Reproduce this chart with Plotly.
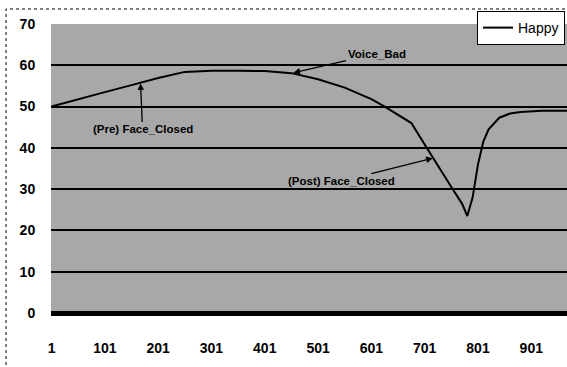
import plotly.graph_objects as go

# Data
x_vals = [1, 51, 101, 151, 201, 251, 301, 351, 401, 451, 501, 551, 601, 626, 651, 676,
          701, 726, 751, 771, 781, 791, 801, 811, 821, 841, 861, 881, 921, 968]
happy = [50.0, 51.8, 53.5, 55.2, 56.9, 58.4, 58.7, 58.7, 58.6, 58.1, 56.6, 54.6, 51.8, 50.0,
         48.0, 46.0, 40.8, 35.5, 30.5, 26.5, 23.5, 28.0, 36.0, 41.5, 44.5, 47.3, 48.3, 48.7,
         49.0, 49.0]
x_ticks = [1, 101, 201, 301, 401, 501, 601, 701, 801, 901]
y_ticks = [0, 10, 20, 30, 40, 50, 60, 70]

fig = go.Figure()
fig.add_trace(go.Scatter(x=x_vals, y=happy, mode="lines", name="Happy",
                         line=dict(color="black", width=2)))

ann_font = dict(family="Liberation Sans, Arial", size=11.5, color="black")
fig.add_annotation(x=455, y=58.2, text="<b>Voice_Bad</b>", ax=83, ay=-19,
                   showarrow=True, arrowhead=2, arrowsize=1, arrowwidth=1.3,
                   arrowcolor="black", font=ann_font)
fig.add_annotation(x=168, y=55.6, text="<b>(Pre) Face_Closed</b>", ax=2, ay=46,
                   showarrow=True, arrowhead=2, arrowsize=1, arrowwidth=1.3,
                   arrowcolor="black", font=ann_font)
fig.add_annotation(x=716, y=37.5, text="<b>(Post) Face_Closed</b>", ax=-91, ay=23,
                   showarrow=True, arrowhead=2, arrowsize=1, arrowwidth=1.3,
                   arrowcolor="black", font=ann_font)

# outer dotted chart border (right and bottom sides fall outside the picture)
L, T, W, H = 51, 24, 516, 289
fig.add_shape(type="rect", xref="paper", yref="paper",
              x0=(6 - L) / W, x1=(580 - L) / W, y0=(313 - 380) / H, y1=(313 - 9) / H,
              line=dict(color="black", width=1, dash="dot"), layer="below")

tick_font = dict(family="Liberation Sans, Arial", size=14, color="black", weight="bold")

fig.update_layout(
    width=567, height=367,
    margin=dict(l=L, r=0, t=T, b=367 - 313, autoexpand=False),
    paper_bgcolor="white", plot_bgcolor="#a8a8a8",
    font=dict(family="Liberation Sans, Arial", size=13, color="black"),
    showlegend=True,
    legend=dict(x=(477 - L) / W, y=(313 - 11) / H, xanchor="left", yanchor="top",
                bgcolor="white", bordercolor="black", borderwidth=1,
                font=dict(size=14), itemwidth=30, tracegroupgap=0,
                entrywidth=48),
    xaxis=dict(range=[0, 968], tickvals=x_ticks, ticktext=[str(t) for t in x_ticks],
               showgrid=False, zeroline=False, showline=False,
               ticks="outside", ticklen=22, tickcolor="rgba(0,0,0,0)",
               tickfont=tick_font),
    yaxis=dict(range=[0, 70], tickvals=y_ticks, showgrid=True, gridcolor="black",
               gridwidth=1.5, zeroline=True, zerolinecolor="black", zerolinewidth=5,
               showline=False, ticks="outside", ticklen=12,
               tickcolor="rgba(0,0,0,0)", tickfont=tick_font),
)

fig.write_html("out.html", post_script="document.body.style.margin='0';",
               config={"displayModeBar": False})
